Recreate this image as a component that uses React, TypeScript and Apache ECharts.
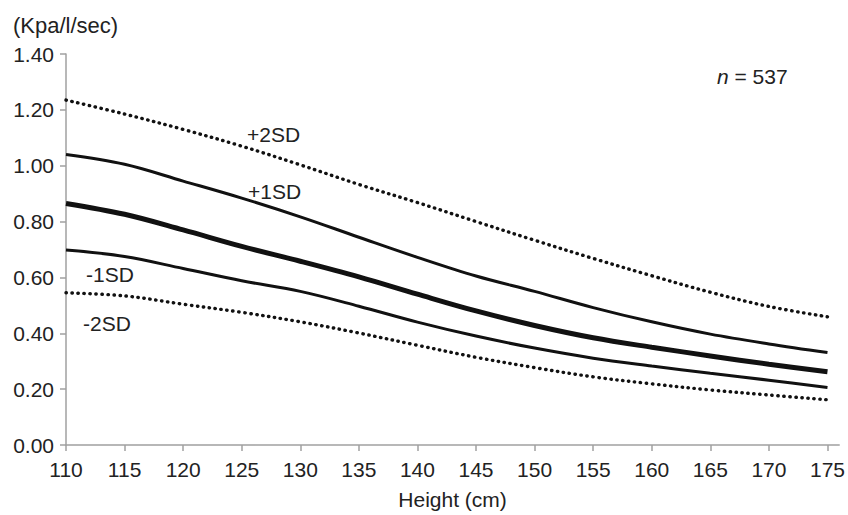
import React, { useEffect, useRef } from "react";
import * as echarts from "echarts";

const heights = [110, 115, 120, 125, 130, 135, 140, 145, 150, 155, 160, 165, 170, 175];
const plus2SD = [1.235, 1.185, 1.13, 1.07, 1.003, 0.933, 0.868, 0.8, 0.733, 0.668, 0.606, 0.547, 0.496, 0.459];
const plus1SD = [1.04, 1.005, 0.945, 0.884, 0.817, 0.744, 0.672, 0.605, 0.55, 0.492, 0.441, 0.397, 0.362, 0.331];
const median = [0.865, 0.826, 0.77, 0.711, 0.658, 0.602, 0.54, 0.48, 0.428, 0.384, 0.35, 0.319, 0.289, 0.262];
const minus1SD = [0.698, 0.675, 0.632, 0.588, 0.55, 0.497, 0.44, 0.39, 0.347, 0.311, 0.283, 0.257, 0.232, 0.206];
const minus2SD = [0.545, 0.534, 0.504, 0.475, 0.441, 0.401, 0.357, 0.314, 0.277, 0.244, 0.219, 0.197, 0.179, 0.162];
const xTickValues = [110, 115, 120, 125, 130, 135, 140, 145, 150, 155, 160, 165, 170, 175];

const FONT = "Liberation Sans, Arial, Helvetica, sans-serif";
const INK = "#111111";
const AXIS = "#a0a0a0";

function pairs(ys: number[]) {
  return heights.map((h, i) => [h, ys[i]]);
}

export default function App() {
  const ref = useRef<HTMLDivElement>(null);
  useEffect(() => {
    if (!ref.current) return;
    const chart = echarts.init(ref.current, undefined, { renderer: "svg" });
    const dotted = { color: INK, width: 3.4, type: [0.4, 5.6] as any, cap: "round" as const };
    const label = (s: string, x: number, y: number, size = 21) => ({
      type: "text",
      x,
      y,
      style: {
        text: s,
        fill: "#222",
        font: `${size}px ${FONT}`,
        textVerticalAlign: "middle",
      },
    });
    const line = (name: string, ys: number[], lineStyle: any) => ({
      name,
      type: "line",
      data: pairs(ys),
      smooth: 0.35,
      showSymbol: false,
      symbol: "none",
      lineStyle,
    });
    chart.setOption({
      animation: false,
      backgroundColor: "#ffffff",
      grid: { left: 66, right: 8, top: 54, bottom: 69, containLabel: false },
      xAxis: {
        type: "value",
        min: 110,
        max: 176,
        interval: 5,
        name: "Height (cm)",
        nameLocation: "middle",
        nameGap: 44,
        nameTextStyle: { color: "#222", fontSize: 21, fontFamily: FONT },
        axisLine: { show: true, lineStyle: { color: AXIS, width: 1.5 } },
        axisTick: { show: true, length: 6, lineStyle: { color: AXIS, width: 1.5 }, customValues: xTickValues },
        axisLabel: { color: "#222", fontSize: 21, fontFamily: FONT, margin: 14, customValues: xTickValues },
        splitLine: { show: false },
      },
      yAxis: {
        type: "value",
        min: 0,
        max: 1.4,
        interval: 0.2,
        axisLine: { show: true, lineStyle: { color: AXIS, width: 1.5 } },
        axisTick: { show: true, length: 6, lineStyle: { color: AXIS, width: 1.5 } },
        axisLabel: {
          color: "#222",
          fontSize: 21,
          fontFamily: FONT,
          margin: 12,
          formatter: (v: number) => v.toFixed(2),
        },
        splitLine: { show: false },
      },
      series: [
        line("+2SD", plus2SD, dotted),
        line("+1SD", plus1SD, { color: INK, width: 3 }),
        line("Median", median, { color: INK, width: 5 }),
        line("-1SD", minus1SD, { color: INK, width: 3 }),
        line("-2SD", minus2SD, dotted),
      ],
      graphic: [
        label("(Kpa/l/sec)", 13, 25, 22),
        {
          type: "text",
          x: 717,
          y: 76,
          style: {
            rich: {
              i: { fontStyle: "italic", fontSize: 21, fontFamily: FONT, fill: "#222" },
              r: { fontSize: 21, fontFamily: FONT, fill: "#222" },
            },
            text: "{i|n}{r| = 537}",
            textVerticalAlign: "middle",
          },
        },
        label("+2SD", 247, 134),
        label("+1SD", 248, 191),
        label("-1SD", 86, 274),
        label("-2SD", 83, 323),
      ],
    });
    return () => chart.dispose();
  }, []);
  return (
    <div
      ref={ref}
      style={{ position: "fixed", left: 0, top: 0, width: 848, height: 515, background: "#fff" }}
    />
  );
}
